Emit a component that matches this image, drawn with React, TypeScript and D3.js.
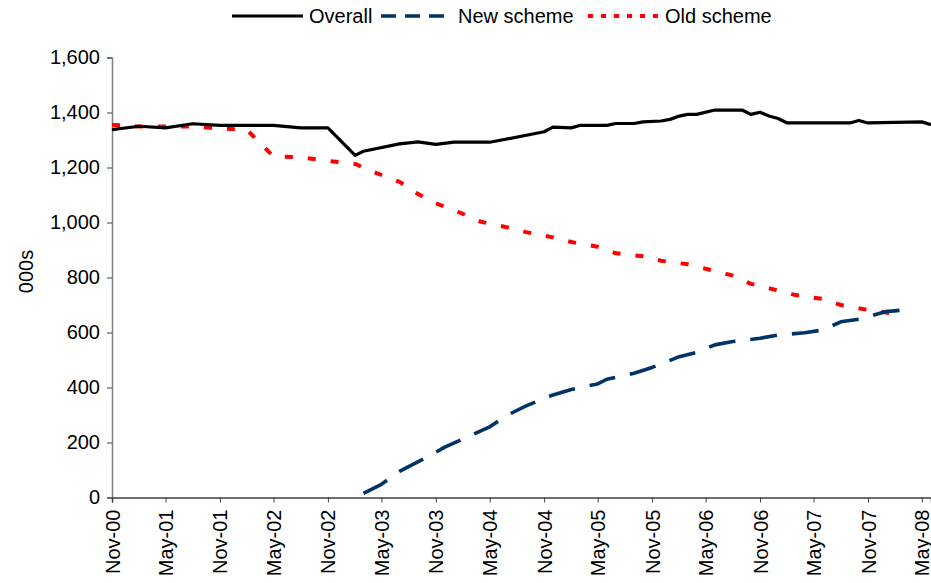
import React, { useEffect, useRef } from "react";
import * as d3 from "d3";

// values in thousands
const overallMonths = [
  "2000-11", "2001-02", "2001-05", "2001-08", "2001-11", "2002-05", "2002-08", "2002-11",
  "2003-02", "2003-03", "2003-07", "2003-09", "2003-11", "2004-01", "2004-05", "2004-06",
  "2004-11", "2004-12", "2005-02", "2005-03", "2005-06", "2005-07", "2005-09", "2005-10",
  "2005-12", "2006-01", "2006-02", "2006-03", "2006-04", "2006-06", "2006-09", "2006-10",
  "2006-11", "2006-12", "2007-01", "2007-02", "2007-09", "2007-10", "2007-11", "2008-05",
  "2008-06",
];
const overallValues = [
  1338, 1350, 1344, 1359, 1353, 1353, 1344, 1344,
  1244, 1259, 1286, 1293, 1284, 1292, 1292, 1298,
  1330, 1347, 1344, 1353, 1353, 1360, 1360, 1366,
  1369, 1375, 1387, 1393, 1393, 1409, 1409, 1393,
  1401, 1387, 1378, 1362, 1362, 1371, 1362, 1366,
  1356,
];

const newMonths = [
  "2003-03", "2003-05", "2003-07", "2003-10", "2003-12", "2004-03", "2004-05", "2004-07",
  "2004-09", "2004-12", "2005-02", "2005-05", "2005-06", "2005-09", "2005-11", "2006-02",
  "2006-04", "2006-06", "2006-08", "2006-11", "2007-01", "2007-04", "2007-06", "2007-08",
  "2007-10", "2008-01", "2008-03",
];
const newValues = [
  15, 48, 95, 146, 183, 227, 257, 300,
  333, 373, 393, 413, 430, 452, 473, 512,
  528, 555, 567, 579, 591, 599, 609, 639,
  648, 676, 682,
];

const oldMonths = [
  "2000-11", "2001-02", "2001-05", "2001-08", "2001-11", "2002-02", "2002-05", "2002-08",
  "2002-11", "2003-02", "2003-04", "2003-07", "2003-09", "2003-11", "2004-02", "2004-04",
  "2004-07", "2004-09", "2004-12", "2005-02", "2005-05", "2005-07", "2005-10", "2005-12",
  "2006-03", "2006-05", "2006-08", "2006-10", "2007-01", "2007-03", "2007-06", "2007-08",
  "2007-11", "2008-02",
];
const oldValues = [
  1355, 1349, 1349, 1349, 1342, 1336, 1240, 1237,
  1224, 1213, 1185, 1148, 1104, 1070, 1031, 1003,
  982, 965, 946, 929, 912, 888, 877, 861,
  848, 832, 807, 777, 753, 736, 722, 700,
  682, 668,
];

const tickLabels = [
  "Nov-00", "May-01", "Nov-01", "May-02", "Nov-02", "May-03", "Nov-03", "May-04",
  "Nov-04", "May-05", "Nov-05", "May-06", "Nov-06", "May-07", "Nov-07", "May-08",
];
const yTicks = [0, 200, 400, 600, 800, 1000, 1200, 1400, 1600];

const seriesNames = ["Overall", "New scheme", "Old scheme"];

const App = () => {
  const chartRef = useRef<SVGSVGElement>(null);

  useEffect(() => {
    const width = 931;
    const height = 583;
    const font = "'Liberation Sans', Arial, sans-serif";
    const fontSize = 20;

    const parseMonth = d3.timeParse("%Y-%m");
    const parseTick = d3.timeParse("%b-%y");

    const toPoints = (months: string[], values: number[]) =>
      months.map((m, i) => ({ date: parseMonth(m) as Date, value: values[i] }));

    const series = [
      { name: seriesNames[0], data: toPoints(overallMonths, overallValues), color: "#000000", width: 3.2, dash: null, legendDash: null },
      { name: seriesNames[1], data: toPoints(newMonths, newValues), color: "#003366", width: 3.6, dash: "27 15", legendDash: "15 9" },
      { name: seriesNames[2], data: toPoints(oldMonths, oldValues), color: "#ff0000", width: 4, dash: "8 15", legendDash: "5 8" },
    ];

    const svg = d3.select(chartRef.current);
    svg.selectAll("*").remove();
    svg.attr("width", width).attr("height", height);

    const x = d3
      .scaleTime()
      .domain([parseTick("Nov-00") as Date, parseMonth("2008-06") as Date])
      .range([112, 931]);
    const y = d3.scaleLinear().domain([0, 1600]).range([497.5, 57.5]);

    // y axis
    const yAxis = svg
      .append("g")
      .attr("transform", `translate(${x.range()[0]},0)`)
      .call(d3.axisLeft(y).tickValues(yTicks).tickSize(5).tickPadding(7).tickFormat(d3.format(",")));
    yAxis.select(".domain").attr("stroke", "#808080").attr("stroke-width", 1.5);
    yAxis.selectAll(".tick line").attr("stroke", "#404040");
    yAxis
      .selectAll("text")
      .attr("font-family", font)
      .attr("font-size", fontSize)
      .attr("fill", "#000");

    // x axis
    const xAxis = svg
      .append("g")
      .attr("transform", `translate(0,${y(0)})`)
      .call(
        d3
          .axisBottom(x)
          .tickValues(tickLabels.map((t) => parseTick(t) as Date))
          .tickSize(5)
          .tickFormat((d, i) => tickLabels[i])
      );
    xAxis.select(".domain").attr("stroke", "#404040").attr("stroke-width", 1.5);
    xAxis.selectAll(".tick line").attr("stroke", "#404040");
    xAxis
      .selectAll("text")
      .attr("transform", "rotate(-90)")
      .attr("x", -12)
      .attr("y", 0)
      .attr("dy", "0.35em")
      .attr("text-anchor", "end")
      .attr("font-family", font)
      .attr("font-size", fontSize)
      .attr("fill", "#000");

    // y axis title
    svg
      .append("text")
      .attr("transform", `translate(33,${(y(0) + y(1600)) / 2 - 6}) rotate(-90)`)
      .attr("text-anchor", "middle")
      .attr("font-family", font)
      .attr("font-size", fontSize)
      .text("000s");

    const line = d3
      .line<{ date: Date; value: number }>()
      .x((d) => x(d.date))
      .y((d) => y(d.value));

    // draw old scheme and new scheme under the overall line
    [series[2], series[1], series[0]].forEach((s) => {
      svg
        .append("path")
        .datum(s.data)
        .attr("fill", "none")
        .attr("stroke", s.color)
        .attr("stroke-width", s.width)
        .attr("stroke-linejoin", "round")
        .attr("stroke-dasharray", s.dash)
        .attr("d", line);
    });

    // legend
    const legendX = [232, 381, 588];
    const legend = svg.append("g");
    series.forEach((s, i) => {
      legend
        .append("line")
        .attr("x1", legendX[i])
        .attr("x2", legendX[i] + 71)
        .attr("y1", 16)
        .attr("y2", 16)
        .attr("stroke", s.color)
        .attr("stroke-width", s.width)
        .attr("stroke-dasharray", s.legendDash);
      legend
        .append("text")
        .attr("x", legendX[i] + 77)
        .attr("y", 23)
        .attr("font-family", font)
        .attr("font-size", fontSize)
        .text(s.name);
    });
  }, []);

  return <svg ref={chartRef} style={{ position: "absolute", left: 0, top: 0, background: "#fff" }} />;
};

export default App;
